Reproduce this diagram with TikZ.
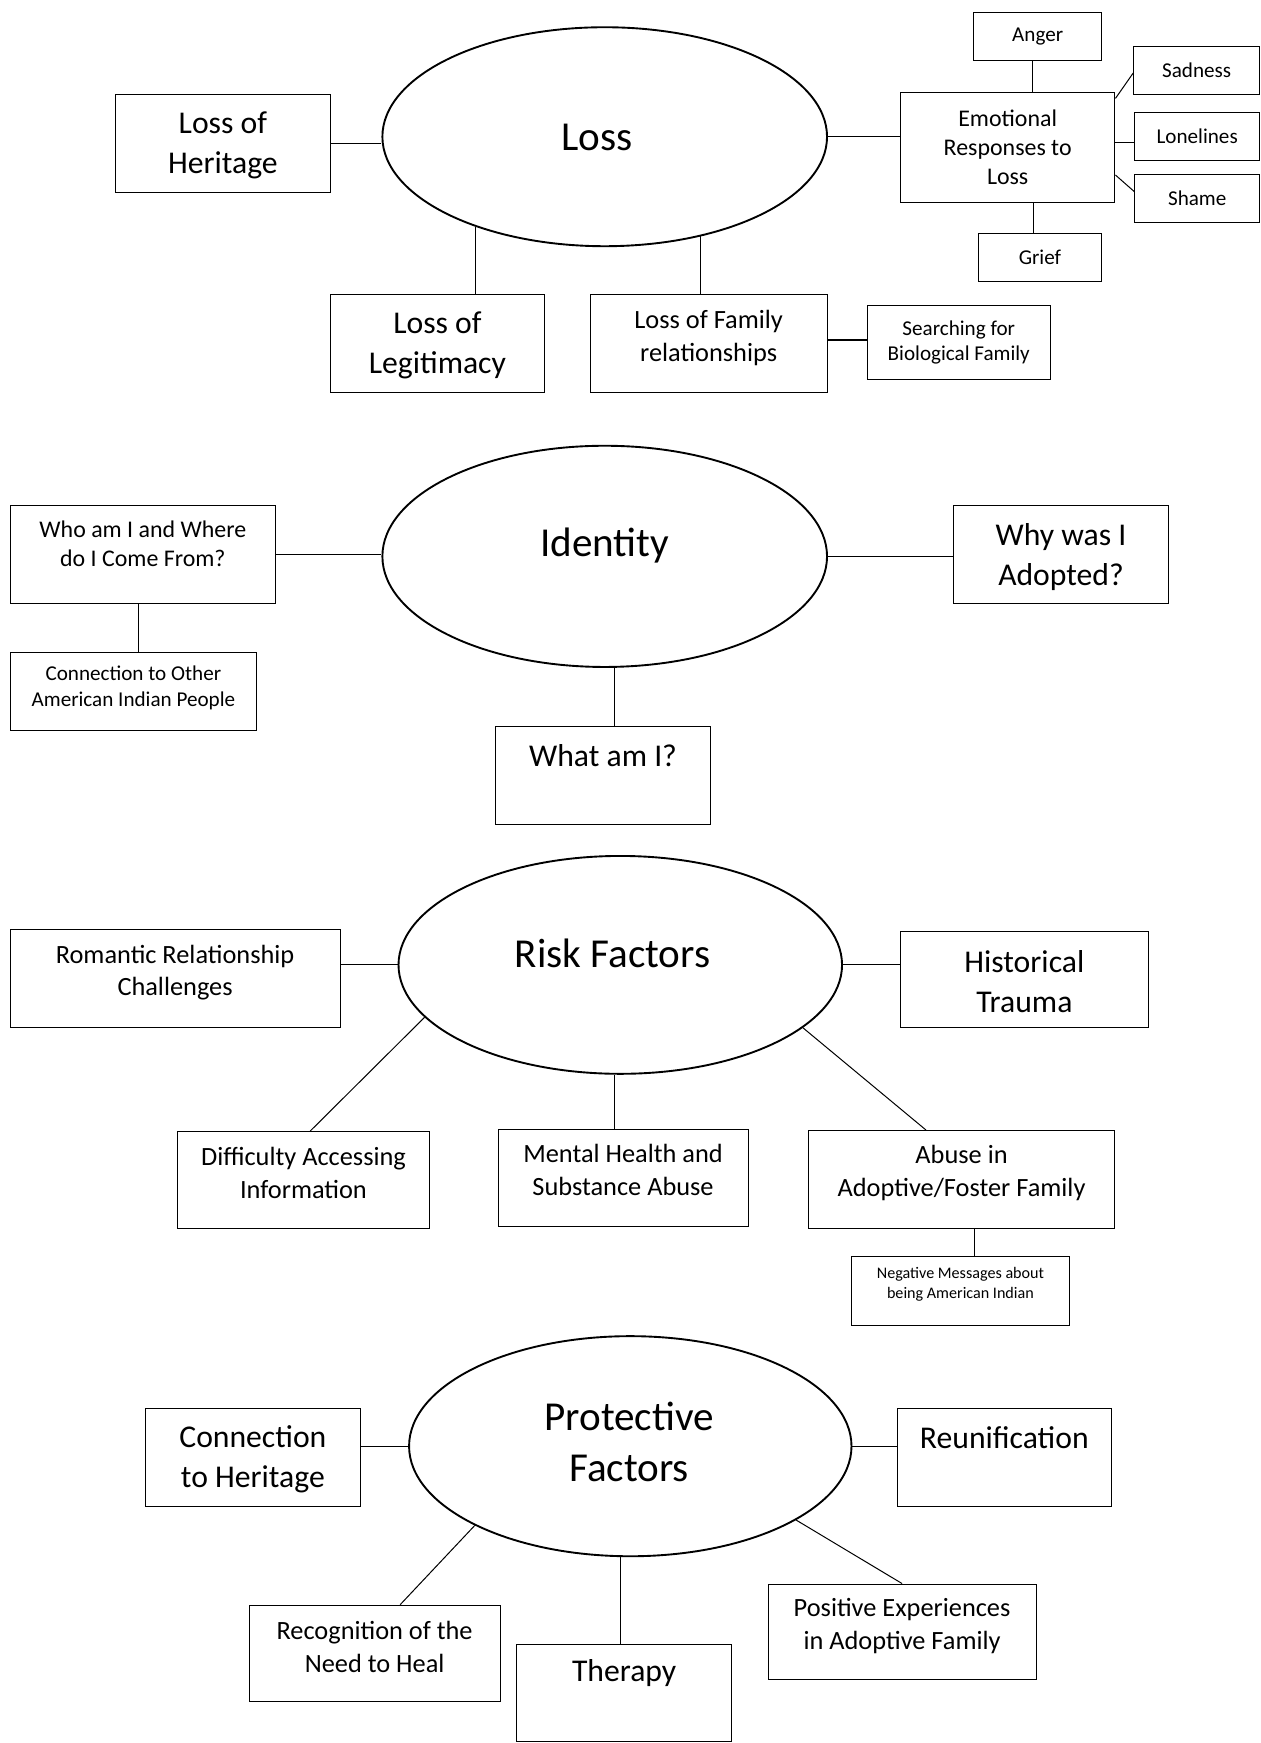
\documentclass[tikz,border=0pt]{standalone}
\usepackage{fontspec}
\setmainfont{Carlito}
\usetikzlibrary{shapes.geometric, calc}

\begin{document}
\begin{tikzpicture}[x=1pt, y=-1pt, line width=0.9pt,
  hub/.style={draw, ellipse, line width=1.7pt, inner sep=0pt},
  box/.style={draw, rectangle, inner sep=0pt, line width=0.9pt},
  hubfont/.style={font=\fontsize{37}{46}\selectfont, align=center},
  bigfont/.style={font=\fontsize{28.5}{36}\selectfont, align=center},
  midfont/.style={font=\fontsize{23.7}{29.5}\selectfont, align=center},
  emofont/.style={font=\fontsize{21.5}{26.5}\selectfont, align=center},
  smlfont/.style={font=\fontsize{19}{23}\selectfont, align=center},
  tinyfont/.style={font=\fontsize{14.5}{18}\selectfont, align=center}]
  \path[use as bounding box, fill=white] (0,0) rectangle (1134,1568);

  % perdida
  \node[hub, minimum width=400pt, minimum height=197pt, label={[hubfont, xshift=-7pt, yshift=-1pt]center:Loss}] (loss) at (544,123) {};
  \node[box, minimum width=193pt, minimum height=88pt, label={[bigfont, yshift=-2pt]center:Loss of\\Heritage}] (lher) at (200.5,129) {};
  \node[box, minimum width=193pt, minimum height=88pt, label={[bigfont, yshift=-2pt]center:Loss of\\Legitimacy}] (lleg) at (393.5,309) {};
  \node[box, minimum width=213pt, minimum height=88pt, label={[midfont, yshift=5pt]center:Loss of Family\\relationships}] (lfam) at (637.5,309) {};
  \node[box, minimum width=165pt, minimum height=66pt, label={[smlfont]center:Searching for\\Biological Family}] (srch) at (862.5,308) {};
  \node[box, minimum width=193pt, minimum height=99pt, label={[emofont]center:Emotional\\Responses to\\Loss}] (emo) at (906.5,132.5) {};
  \node[box, minimum width=115pt, minimum height=43pt, label={[smlfont]center:Anger}] (anger) at (933.5,32.5) {};
  \node[box, minimum width=113pt, minimum height=43pt, label={[smlfont]center:Sadness}] (sad) at (1076.5,63.5) {};
  \node[box, minimum width=112pt, minimum height=43pt, label={[smlfont]center:Lonelines}] (lon) at (1077,122.5) {};
  \node[box, minimum width=112pt, minimum height=43pt, label={[smlfont]center:Shame}] (shame) at (1077,178.5) {};
  \node[box, minimum width=111pt, minimum height=43pt, label={[smlfont]center:Grief}] (grief) at (935.5,231.5) {};
  \draw (lher.east) -- (lher.east -| loss.west);
  \draw (loss.215) -- (loss.215 |- lleg.north);
  \draw (loss.314) -- (loss.314 |- lfam.north);
  \draw[line width=2pt] ([yshift=2pt]srch.west -| lfam.east) -- ([yshift=2pt]srch.west);
  \draw (loss.east) -- (loss.east -| emo.west);
  \draw ([xshift=-5pt]anger.south) -- ([xshift=-5pt]anger.south |- emo.north);
  \draw ([xshift=-6pt]grief.north) -- ([xshift=-6pt]grief.north |- emo.south);
  \draw ([yshift=-6pt]emo.north east) -- ([yshift=-2pt]sad.west);
  \draw ([yshift=4pt]emo.east) -- ([yshift=4pt]emo.east -| lon.west);
  \draw ([yshift=25pt]emo.south east) -- ([yshift=6pt]shame.west);

  % identidad
  \node[hub, minimum width=400pt, minimum height=199pt, label={[hubfont, yshift=10pt]center:Identity}] (ident) at (544,500.5) {};
  \node[box, minimum width=239pt, minimum height=88pt, label={[emofont, yshift=10pt]center:Who am I and Where\\do I Come From?}] (who) at (128.5,499) {};
  \node[box, minimum width=222pt, minimum height=70pt, label={[smlfont, yshift=3pt]center:Connection to Other\\American Indian People}] (conn) at (120,622) {};
  \node[box, minimum width=193pt, minimum height=88pt, label={[bigfont, yshift=-2pt]center:Why was I\\Adopted?}] (why) at (954.5,499) {};
  \node[box, minimum width=193pt, minimum height=88pt, label={[bigfont, yshift=18pt]center:What am I?}] (what) at (542.5,698) {};
  \draw (who.east) -- (who.east -| ident.west);
  \draw (ident.east) -- (ident.east -| why.west);
  \draw ([xshift=-4pt]who.south) -- ([xshift=-4pt]who.south |- conn.north);
  \draw ([xshift=10pt]what.north) -- ([xshift=10pt]what.north |- ident.south);

  % factores de riesgo
  \node[hub, minimum width=399pt, minimum height=196pt, label={[hubfont, xshift=-7pt, yshift=10pt]center:Risk Factors}] (risk) at (558,868) {};
  \node[box, minimum width=297pt, minimum height=88pt, label={[midfont, yshift=5pt]center:Romantic Relationship\\Challenges}] (rom) at (157.5,880) {};
  \node[box, minimum width=223pt, minimum height=86pt, label={[bigfont, yshift=-2pt]center:Historical\\Trauma}] (hist) at (921.5,881) {};
  \node[box, minimum width=226pt, minimum height=87pt, label={[midfont, yshift=6pt]center:Difficulty Accessing\\Information}] (diff) at (273,1061.5) {};
  \node[box, minimum width=225pt, minimum height=87pt, label={[midfont, yshift=7pt]center:Mental Health and\\Substance Abuse}] (ment) at (560.5,1059.5) {};
  \node[box, minimum width=276pt, minimum height=88pt, label={[midfont, yshift=6pt]center:Abuse in\\Adoptive/Foster Family}] (abuse) at (865,1061) {};
  \node[box, minimum width=196pt, minimum height=62pt, label={[tinyfont, yshift=6pt]center:Negative Messages about\\being American Indian}] (neg) at (864,1161) {};
  \draw (risk.west) -- (risk.west -| rom.east);
  \draw (risk.east) -- (risk.east -| hist.west);
  \draw (risk.195) -- ([xshift=6pt]diff.north);
  \draw ([xshift=-8pt]ment.north) -- ([xshift=-8pt]ment.north |- risk.south);
  \draw (risk.341) -- ([xshift=-32pt]abuse.north);
  \draw ([xshift=12pt]abuse.south) -- ([xshift=12pt]abuse.south |- neg.north);

  % factores de proteccion
  \node[hub, minimum width=398pt, minimum height=198pt, label={[hubfont, xshift=-1pt, yshift=4pt]center:Protective\\Factors}] (prot) at (567,1301) {};
  \node[box, minimum width=193pt, minimum height=88pt, label={[bigfont, yshift=-2pt]center:Connection\\to Heritage}] (heri) at (227.5,1311) {};
  \node[box, minimum width=193pt, minimum height=88pt, label={[bigfont, yshift=18pt]center:Reunification}] (reun) at (903.5,1311) {};
  \node[box, minimum width=226pt, minimum height=87pt, label={[midfont, yshift=6pt]center:Recognition of the\\Need to Heal}] (recog) at (337,1487.5) {};
  \node[box, minimum width=193pt, minimum height=88pt, label={[bigfont, yshift=18pt]center:Therapy}] (ther) at (561.5,1523) {};
  \node[box, minimum width=241pt, minimum height=86pt, label={[midfont, yshift=5pt]center:Positive Experiences\\in Adoptive Family}] (pos) at (811.5,1468) {};
  \draw (prot.west) -- (prot.west -| heri.east);
  \draw (prot.east) -- (prot.east -| reun.west);
  \draw (prot.207) -- ([xshift=23pt]recog.north);
  \draw ([xshift=-3pt]ther.north) -- ([xshift=-3pt]ther.north |- prot.south);
  \draw (prot.336) -- (pos.north);
\end{tikzpicture}
\end{document}
